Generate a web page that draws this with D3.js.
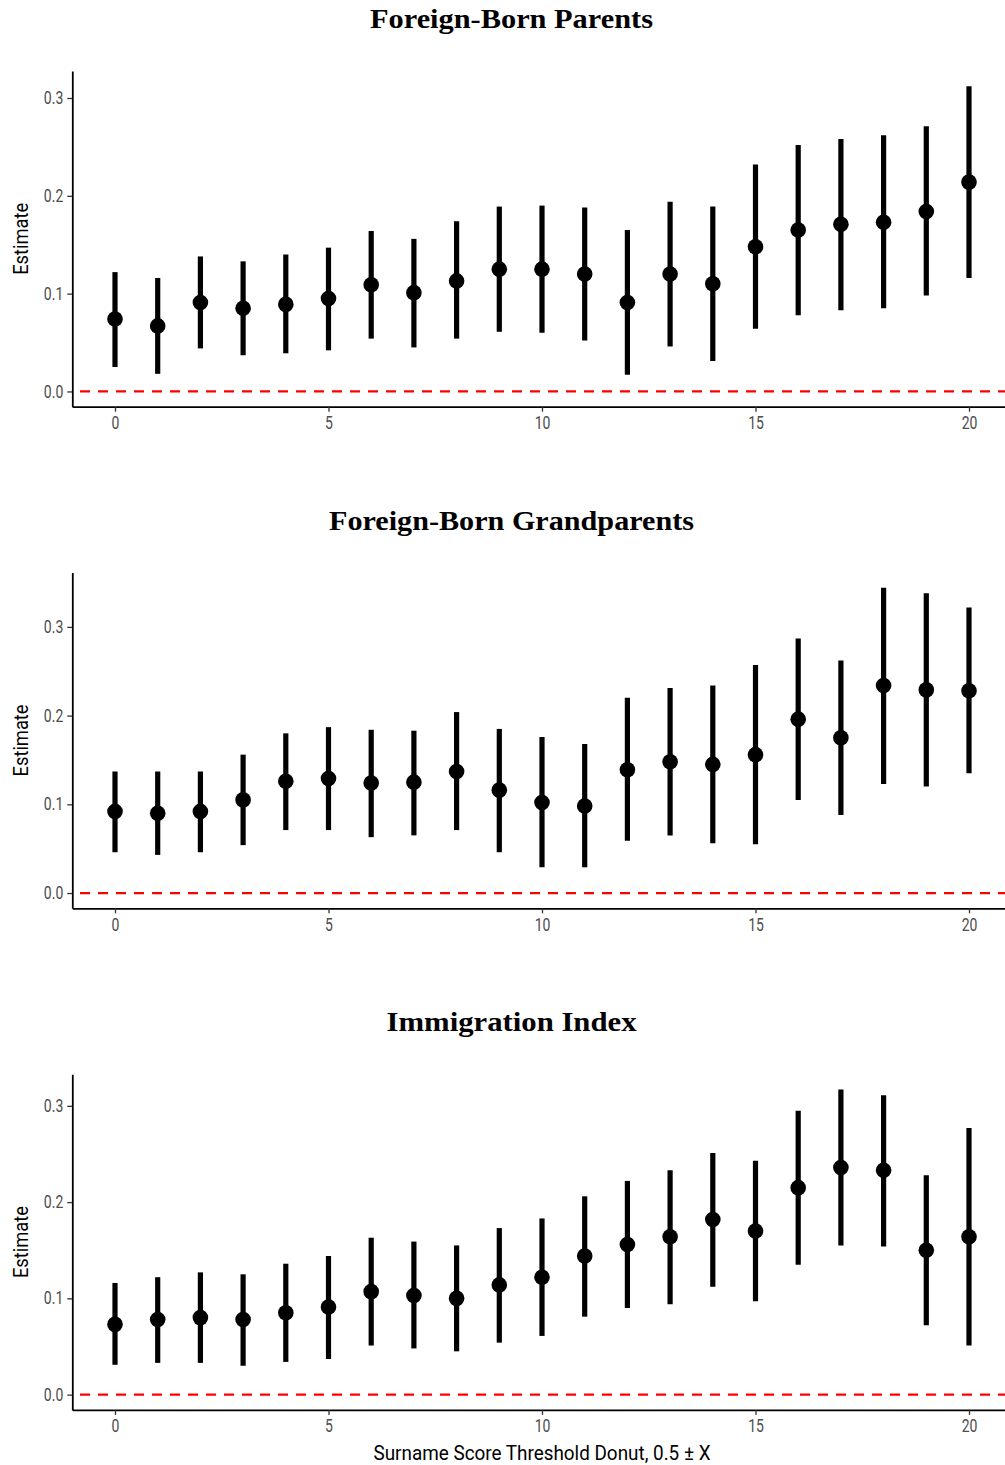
<!DOCTYPE html>
<html>
<head>
<meta charset="utf-8">
<script src="https://cdn.jsdelivr.net/npm/d3@7"></script>
<style>
  html, body { margin: 0; padding: 0; background: #fff; }
  svg { display: block; }
</style>
</head>
<body>
<svg id="chart" width="1005" height="1465"></svg>
<script>
// ---- Data ----
const thresholds = [0,1,2,3,4,5,6,7,8,9,10,11,12,13,14,15,16,17,18,19,20];

const panelTitles = ["Foreign-Born Parents", "Foreign-Born Grandparents", "Immigration Index"];

const parentsEst = [0.074,0.067,0.091,0.085,0.089,0.095,0.109,0.101,0.113,0.125,0.125,0.120,0.091,0.120,0.110,0.148,0.165,0.171,0.173,0.184,0.214];
const parentsLo  = [0.025,0.018,0.044,0.037,0.039,0.042,0.054,0.045,0.054,0.061,0.060,0.052,0.017,0.046,0.031,0.064,0.078,0.083,0.085,0.098,0.116];
const parentsHi  = [0.122,0.116,0.138,0.133,0.140,0.147,0.164,0.156,0.174,0.189,0.190,0.188,0.165,0.194,0.189,0.232,0.252,0.258,0.262,0.271,0.312];

const grandEst = [0.092,0.090,0.092,0.105,0.126,0.129,0.124,0.125,0.137,0.116,0.102,0.098,0.139,0.148,0.145,0.156,0.196,0.175,0.234,0.229,0.228];
const grandLo  = [0.046,0.043,0.046,0.054,0.071,0.071,0.063,0.065,0.071,0.046,0.029,0.029,0.059,0.065,0.056,0.055,0.105,0.088,0.123,0.120,0.135];
const grandHi  = [0.137,0.137,0.137,0.156,0.180,0.187,0.184,0.183,0.204,0.185,0.176,0.168,0.220,0.231,0.234,0.257,0.287,0.262,0.344,0.338,0.322];

const indexEst = [0.073,0.078,0.080,0.078,0.085,0.091,0.107,0.103,0.100,0.114,0.122,0.144,0.156,0.164,0.182,0.170,0.215,0.236,0.233,0.150,0.164];
const indexLo  = [0.031,0.033,0.033,0.030,0.034,0.037,0.051,0.048,0.045,0.054,0.061,0.081,0.090,0.094,0.112,0.097,0.135,0.155,0.154,0.072,0.051];
const indexHi  = [0.116,0.122,0.127,0.125,0.136,0.144,0.163,0.159,0.155,0.173,0.183,0.206,0.222,0.233,0.251,0.243,0.295,0.317,0.311,0.228,0.277];

const yTicks = [0.0, 0.1, 0.2, 0.3];
const xTicks = [0, 5, 10, 15, 20];
const yLabel = "Estimate";
const xLabel = "Surname Score Threshold Donut, 0.5 ± X";
const refValue = 0;

// ---- Layout ----
const svg = d3.select("#chart");
const panels = [
  {title: panelTitles[0], est: parentsEst, lo: parentsLo, hi: parentsHi, titleW: 283},
  {title: panelTitles[1], est: grandEst, lo: grandLo, hi: grandHi, titleW: 365},
  {title: panelTitles[2], est: indexEst, lo: indexLo, hi: indexHi, titleW: 250}
];
const panelStep = 501.6;
const plotLeft = 72.3, plotRight = 1011.7;
const plotTop0 = 71, plotH = 335.7;

const xMin = d3.min(thresholds), xMax = d3.max(thresholds);
const xPad = (xMax - xMin) * 0.05;
const x = d3.scaleLinear().domain([xMin - xPad, xMax + xPad]).range([plotLeft, plotRight]);

const tickFont = "Roboto, 'Liberation Sans', sans-serif";

// emulate a condensed face by compressing glyphs horizontally
function condense(sel, ratio) {
  sel.each(function () {
    const n = this.getComputedTextLength();
    d3.select(this).attr("textLength", n * ratio).attr("lengthAdjust", "spacingAndGlyphs");
  });
}

panels.forEach((p, k) => {
  const top = plotTop0 + k * panelStep;
  const bottom = top + plotH;
  const lowAll = Math.min(refValue, d3.min(p.lo));
  const highAll = d3.max(p.hi);
  const ypad = (highAll - lowAll) * 0.05;
  const y = d3.scaleLinear().domain([lowAll - ypad, highAll + ypad]).range([bottom, top]);

  const g = svg.append("g");

  // title
  g.append("text")
    .attr("x", 511.5).attr("y", top - 43)
    .attr("text-anchor", "middle")
    .attr("font-family", "'Liberation Serif', 'DejaVu Serif', serif")
    .attr("font-weight", "bold")
    .attr("font-size", 27.5)
    .attr("textLength", p.titleW).attr("lengthAdjust", "spacingAndGlyphs")
    .attr("fill", "#000")
    .text(p.title);

  // reference line
  g.append("line")
    .attr("x1", x.range()[0]).attr("x2", x.range()[1])
    .attr("y1", y(refValue)).attr("y2", y(refValue))
    .attr("stroke", "#ff0000").attr("stroke-width", 2.2)
    .attr("stroke-dasharray", "10,8").attr("stroke-dashoffset", 10.3);

  // error bars
  g.append("g").selectAll("line").data(thresholds).join("line")
    .attr("x1", (d) => x(d)).attr("x2", (d) => x(d))
    .attr("y1", (d, i) => y(p.lo[i])).attr("y2", (d, i) => y(p.hi[i]))
    .attr("stroke", "#000").attr("stroke-width", 5.2);

  // points
  g.append("g").selectAll("circle").data(thresholds).join("circle")
    .attr("cx", (d) => x(d)).attr("cy", (d, i) => y(p.est[i]))
    .attr("r", 7.8).attr("fill", "#000");

  // y axis
  const yAxis = g.append("g").attr("transform", `translate(${plotLeft},0)`)
    .call(d3.axisLeft(y).tickValues(yTicks).tickFormat(d3.format(".1f"))
      .tickSize(5).tickSizeOuter(0).tickPadding(4));
  yAxis.select(".domain").attr("stroke", "#000").attr("stroke-width", 1.8);
  yAxis.selectAll(".tick line").attr("stroke", "#333").attr("stroke-width", 1.3);
  yAxis.selectAll(".tick text").attr("fill", "#4d4d4d")
    .attr("font-family", tickFont).attr("font-size", 17.5).call(condense, 0.8);

  // x axis
  const xAxis = g.append("g").attr("transform", `translate(0,${bottom})`)
    .call(d3.axisBottom(x).tickValues(xTicks).tickSize(5).tickSizeOuter(0).tickPadding(5));
  xAxis.select(".domain").attr("stroke", "#000").attr("stroke-width", 1.8);
  xAxis.selectAll(".tick line").attr("stroke", "#333").attr("stroke-width", 1.3);
  xAxis.selectAll(".tick text").attr("fill", "#4d4d4d")
    .attr("font-family", tickFont).attr("font-size", 17.5).call(condense, 0.8);

  // y label
  g.append("text")
    .attr("transform", `translate(28,${(top + bottom) / 2}) rotate(-90)`)
    .attr("text-anchor", "middle")
    .attr("font-family", tickFont).attr("font-size", 20.5)
    .attr("textLength", 72).attr("lengthAdjust", "spacingAndGlyphs")
    .attr("fill", "#000")
    .text(yLabel);

  if (k === panels.length - 1) {
    g.append("text")
      .attr("x", (plotLeft + plotRight) / 2).attr("y", bottom + 50.5)
      .attr("text-anchor", "middle")
      .attr("font-family", tickFont).attr("font-size", 20.5)
      .attr("textLength", 337).attr("lengthAdjust", "spacingAndGlyphs")
      .attr("fill", "#000")
      .text(xLabel);
  }
});
</script>
</body>
</html>
